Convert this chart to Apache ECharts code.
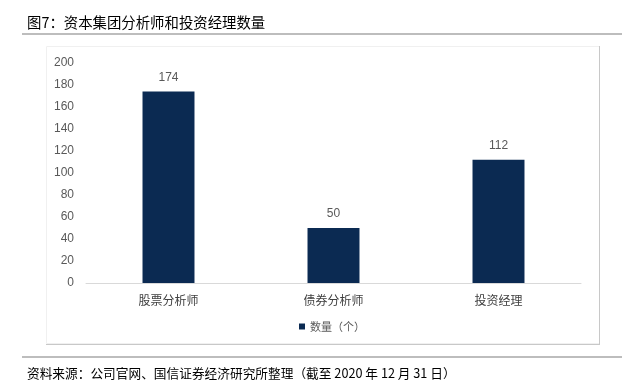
<!DOCTYPE html>
<html><head><meta charset="utf-8">
<script src="https://cdn.jsdelivr.net/npm/echarts@6/dist/echarts.min.js"></script>
<style>html,body{margin:0;padding:0;background:#fff}#c{width:622px;height:388px}</style>
</head><body><div id="c"></div>
<script>
const categories = ['股票分析师', '债券分析师', '投资经理'];
const counts = [174, 50, 112];
const seriesName = '数量（个）';
const titleText = '图7：资本集团分析师和投资经理数量';
const sourceText = '资料来源：公司官网、国信证券经济研究所整理（截至 2020 年 12 月 31 日）';

const chart = echarts.init(document.getElementById('c'), null, {renderer: 'canvas'});
const font = '"Noto Sans CJK SC", "Liberation Sans", sans-serif';
chart.setOption({
  animation: false,
  title: [
    {text: titleText, left: 22, top: 10, textStyle: {fontSize: 14.4, fontWeight: 'normal', color: '#000', fontFamily: font}},
    {text: sourceText, left: 22, top: 362, textStyle: {fontSize: 12.7, fontWeight: 'normal', color: '#000', fontFamily: font}}
  ],
  graphic: [
    {type: 'line', shape: {x1: 22, y1: 34, x2: 622, y2: 34}, style: {stroke: '#bdbdbd', lineWidth: 2}},
    {type: 'line', shape: {x1: 22, y1: 357, x2: 622, y2: 357}, style: {stroke: '#bdbdbd', lineWidth: 2}},
    {type: 'rect', shape: {x: 46.5, y: 46.5, width: 553, height: 297}, style: {fill: 'none', stroke: '#f0f0f0', lineWidth: 1}},
    {type: 'line', shape: {x1: 599.5, y1: 46, x2: 599.5, y2: 344}, style: {stroke: '#c8c8c8', lineWidth: 1}},
    {type: 'line', shape: {x1: 46, y1: 344.5, x2: 600, y2: 344.5}, style: {stroke: '#c8c8c8', lineWidth: 1}}
  ],
  legend: {
    data: [seriesName], top: 316, left: 294,
    icon: 'rect', itemWidth: 6, itemHeight: 6, itemGap: 4,
    textStyle: {fontSize: 11, color: '#595959', fontFamily: font}
  },
  grid: {left: 86, right: 41, top: 63, bottom: 105},
  xAxis: {
    type: 'category', data: categories,
    axisLine: {lineStyle: {color: '#d9d9d9', width: 1}},
    axisTick: {show: false},
    axisLabel: {fontSize: 12, color: '#404040', margin: 11, fontFamily: font}
  },
  yAxis: {
    type: 'value', min: 0, max: 200, interval: 20,
    splitLine: {show: false},
    axisLine: {show: false}, axisTick: {show: false},
    axisLabel: {fontSize: 12, color: '#595959', margin: 12, fontFamily: '"Liberation Sans", Arial, sans-serif'}
  },
  series: [{
    name: seriesName, type: 'bar', data: counts, barWidth: '31.5%',
    itemStyle: {color: '#0b2a52'},
    label: {show: true, position: 'top', distance: 8, fontSize: 12, color: '#595959', fontFamily: '"Liberation Sans", Arial, sans-serif'}
  }]
});
</script></body></html>
